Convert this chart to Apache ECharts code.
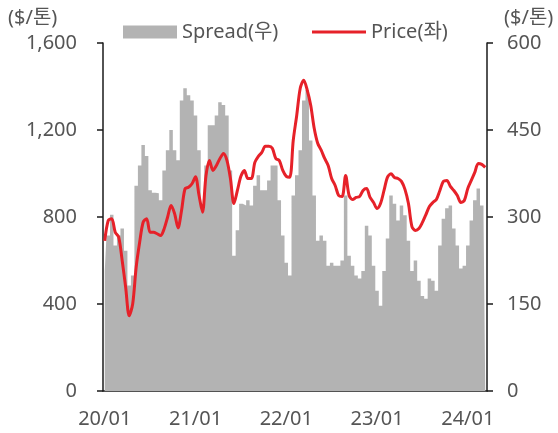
<!DOCTYPE html>
<html>
<head>
<meta charset="utf-8">
<script src="https://cdn.jsdelivr.net/npm/echarts@6/dist/echarts.min.js"></script>
<style>
  html, body { margin: 0; padding: 0; background: #fff; }
  #chart { width: 558px; height: 433px; }
</style>
</head>
<body>
<div id="chart"></div>
<script>
// 2주 간격 (2020/01 ~ 2024/03)
const startDate = new Date(2020, 0, 3)
const spread = [
  207, 268, 304, 251, 268, 280, 242, 182, 199, 354,
  389, 424, 405, 346, 342, 341, 329, 380, 415, 450,
  415, 398, 501, 522, 510, 501, 475, 415, 311, 389,
  458, 458, 475, 498, 493, 475, 380, 233, 277, 323,
  320, 329, 320, 354, 372, 346, 346, 363, 389, 389,
  329, 268, 221, 199, 337, 372, 415, 501, 519, 432,
  337, 259, 268, 259, 216, 221, 216, 216, 225, 337,
  233, 216, 199, 194, 207, 285, 268, 216, 173, 147,
  207, 263, 337, 323, 294, 320, 303, 259, 207, 225,
  190, 164, 159, 194, 190, 173, 251, 297, 315, 320,
  280, 251, 211, 216, 251, 294, 329, 349, 320, 306
]
const price = [
  690, 784, 792, 730, 707, 599, 476, 346, 400, 569,
  684, 776, 792, 730, 730, 723, 715, 745, 799, 853,
  816, 750, 830, 930, 937, 953, 985, 900, 822, 990,
  1060, 1014, 1037, 1069, 1092, 1060, 977, 862, 922, 987,
  1014, 977, 977, 1051, 1079, 1097, 1125, 1125, 1116, 1069,
  1060, 1014, 987, 983, 1153, 1268, 1392, 1429, 1383, 1314,
  1208, 1139, 1107, 1069, 1037, 977, 945, 899, 894, 991,
  899, 880, 890, 894, 922, 931, 890, 867, 839, 862,
  922, 983, 999, 982, 977, 964, 927, 862, 756, 738,
  747, 775, 811, 848, 867, 881, 922, 964, 968, 941,
  922, 899, 867, 876, 931, 968, 1005, 1046, 1042, 1028
]
const tickIdx = [0, 26, 52, 78, 104]
const tickLabels = ['20/01', '21/01', '22/01', '23/01', '24/01']

const categories = spread.map(function (v, i) {
  const d = new Date(startDate.getTime() + i * 14 * 86400000)
  return d.getFullYear() + '-' + (d.getMonth() + 1) + '-' + d.getDate()
})

const font = '"Noto Sans", "Noto Sans CJK KR", sans-serif'
const textColor = '#555555'
const axisColor = '#1a1a1a'
const gray = '#b3b3b3'
const red = '#e62129'
const isTick = function (idx) { return tickIdx.indexOf(idx) >= 0 }

const myChart = echarts.init(document.getElementById('chart'))
myChart.setOption({
  animation: false,
  textStyle: { fontFamily: font },
  grid: { left: 103, right: 71, top: 43, bottom: 42 },
  legend: [
    {
      data: [{ name: 'Spread(우)', itemStyle: { color: gray } }],
      left: 123, top: 22, padding: 0,
      itemWidth: 54, itemHeight: 13, icon: 'rect',
      textStyle: { fontSize: 20, color: textColor, fontFamily: font }
    },
    {
      data: [{ name: 'Price(좌)', itemStyle: { color: red } }],
      left: 312, top: 22, padding: 0,
      itemWidth: 54, itemHeight: 3, icon: 'rect',
      textStyle: { fontSize: 20, color: textColor, fontFamily: font }
    }
  ],
  graphic: [
    { type: 'text', left: 8, top: 8, style: { text: '($/톤)', fontSize: 20, fill: textColor, fontFamily: font } },
    { type: 'text', left: 504, top: 8, style: { text: '($/톤)', fontSize: 20, fill: textColor, fontFamily: font } }
  ],
  xAxis: {
    type: 'category',
    data: categories,
    boundaryGap: true,
    axisLine: { lineStyle: { color: axisColor, width: 1.5 } },
    axisTick: { interval: isTick, length: 6, lineStyle: { color: axisColor, width: 1.5 } },
    axisLabel: {
      interval: isTick,
      margin: 18,
      fontSize: 20,
      color: textColor,
      fontFamily: font,
      formatter: function (v, idx) { return tickLabels[tickIdx.indexOf(idx)] || '' }
    },
    splitLine: { show: false }
  },
  yAxis: [
    {
      type: 'value', min: 0, max: 1600, interval: 400,
      axisLine: { show: true, lineStyle: { color: axisColor, width: 1.5 } },
      axisTick: { show: true, length: 6, lineStyle: { color: axisColor, width: 1.5 } },
      axisLabel: {
        margin: 26, fontSize: 20, color: textColor, fontFamily: font,
        formatter: function (v) { return v.toLocaleString('en-US') }
      },
      splitLine: { show: false }
    },
    {
      type: 'value', min: 0, max: 600, interval: 150, position: 'right',
      axisLine: { show: true, lineStyle: { color: axisColor, width: 1.5 } },
      axisTick: { show: true, length: 6, lineStyle: { color: axisColor, width: 1.5 } },
      axisLabel: { margin: 20, fontSize: 20, color: textColor, fontFamily: font },
      splitLine: { show: false }
    }
  ],
  series: [
    {
      // 막대 대신 계단형 면적으로 그려서 막대 사이 틈을 없앰
      name: 'Spread(우)',
      type: 'line',
      yAxisIndex: 1,
      data: spread,
      step: 'middle',
      showSymbol: false,
      lineStyle: { width: 0 },
      areaStyle: { color: gray, opacity: 1 },
      itemStyle: { color: gray }
    },
    {
      name: 'Price(좌)',
      type: 'line',
      yAxisIndex: 0,
      data: price,
      showSymbol: false,
      smooth: 0.3,
      lineStyle: { color: red, width: 3 },
      itemStyle: { color: red }
    }
  ]
})
</script>
</body>
</html>
